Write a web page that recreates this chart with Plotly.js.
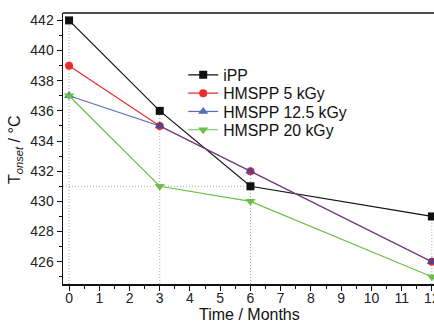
<!DOCTYPE html>
<html>
<head>
<meta charset="utf-8">
<script src="https://cdn.plot.ly/plotly-3.0.1.min.js"></script>
<style>html,body{margin:0;padding:0;background:#fff;}#chart{width:434px;height:322px;}</style>
</head>
<body>
<div id="chart"></div>
<script>
const months = [0, 3, 6, 12];
const seriesNames = ["iPP", "HMSPP 5 kGy", "HMSPP 12.5 kGy", "HMSPP 20 kGy"];
const iPP = [442, 436, 431, 429];
const hmspp5 = [439, 435, 432, 426];
const hmspp125 = [437, 435, 432, 426];
const hmspp20 = [437, 431, 430, 425];
const xTicks = [0,1,2,3,4,5,6,7,8,9,10,11,12];
const yTicks = [426, 428, 430, 432, 434, 436, 438, 440, 442];
const xTitle = "Time / Months";
const yTitle = "T<sub><i>onset</i></sub> / °C";

const yRange = [424.52, 442.49];
const xRange = [-0.2, 12.07];

const styles = [
  {color: "#111111", symbol: "square", size: 8, opacity: 1},
  {color: "#ee2a2a", symbol: "circle", size: 8, opacity: 1},
  {color: "#2e4aa8", symbol: "triangle-up", size: 9, opacity: 0.8},
  {color: "#6cc04a", symbol: "triangle-down", size: 9, opacity: 1}
];
const allSeries = [iPP, hmspp5, hmspp125, hmspp20];
const legendIds = ["legend", "legend2", "legend3", "legend4"];

const traces = allSeries.map((ys, i) => ({
  x: months, y: ys, name: seriesNames[i], type: "scatter", mode: "lines+markers",
  opacity: styles[i].opacity,
  line: {color: styles[i].color, width: 1.2},
  marker: {color: styles[i].color, symbol: styles[i].symbol, size: styles[i].size},
  cliponaxis: false,
  legend: legendIds[i]
}));

const shapes = [];
const dot = {color: "#a8a8a8", width: 1, dash: "1px,2px"};
months.forEach((m, j) => {
  const top = Math.max(...allSeries.map(s => s[j]));
  shapes.push({type: "line", xref: "x", yref: "y", x0: m, x1: m, y0: yRange[0], y1: top, line: dot, layer: "below"});
});
// horizontal guide at iPP value at 6 months
shapes.push({type: "line", xref: "x", yref: "y", x0: xRange[0], x1: months[2], y0: iPP[2], y1: iPP[2], line: dot, layer: "below"});
// top frame line
shapes.push({type: "line", xref: "paper", yref: "paper", x0: 0, x1: 1, y0: 1, y1: 1, line: {color: "#111", width: 1.5}});

const fam = "Liberation Sans, Arial, sans-serif";

const layout = {
  width: 434, height: 322,
  margin: {l: 63, r: 0, t: 13, b: 38},
  paper_bgcolor: "#fff", plot_bgcolor: "#fff",
  font: {family: fam, size: 14, color: "#222"},
  showlegend: true,
  xaxis: {
    range: xRange, tickvals: xTicks, ticktext: xTicks.map(String),
    showgrid: false, zeroline: false, showline: true, linecolor: "#111", linewidth: 1.5,
    ticks: "outside", ticklen: 5, tickwidth: 1, tickcolor: "#111",
    minor: {dtick: 0.5, tick0: 0, ticks: "outside", ticklen: 3, tickcolor: "#111"},
    tickfont: {family: fam, size: 14, color: "#222"},
    ticklabeloverflow: "allow", ticklabelstandoff: -4
  },
  yaxis: {
    range: yRange, tickvals: yTicks, ticktext: yTicks.map(String),
    showgrid: false, zeroline: false, showline: true, linecolor: "#111", linewidth: 1.5,
    ticks: "outside", ticklen: 5, tickwidth: 1, tickcolor: "#111",
    minor: {dtick: 1, tick0: 425, ticks: "outside", ticklen: 3, tickcolor: "#111"},
    tickfont: {family: fam, size: 14, color: "#222"}
  },
  annotations: [
    {text: xTitle, xref: "paper", yref: "paper", x: (249 - 63) / 371, y: (284 - 314) / 271,
     xanchor: "center", yanchor: "middle", showarrow: false,
     font: {family: fam, size: 16, color: "#111"}},
    {text: yTitle, xref: "paper", yref: "paper", x: (15 - 63) / 371, y: (284 - 150) / 271,
     xanchor: "center", yanchor: "middle", showarrow: false, textangle: -90,
     font: {family: fam, size: 16, color: "#111"}}
  ],
  shapes: shapes
};

legendIds.forEach((id, i) => {
  const centerPx = 73.7 + 18.3 * i;
  const topPx = centerPx - 15.6;
  layout[id] = {x: 0.324, y: 1 - (topPx - 13) / 271, xanchor: "left", yanchor: "top",
    bgcolor: "rgba(0,0,0,0)", font: {family: fam, size: 15.8, color: "#111"}, itemwidth: 30};
});

Plotly.newPlot("chart", traces, layout, {displayModeBar: false, staticPlot: true});
</script>
</body>
</html>
